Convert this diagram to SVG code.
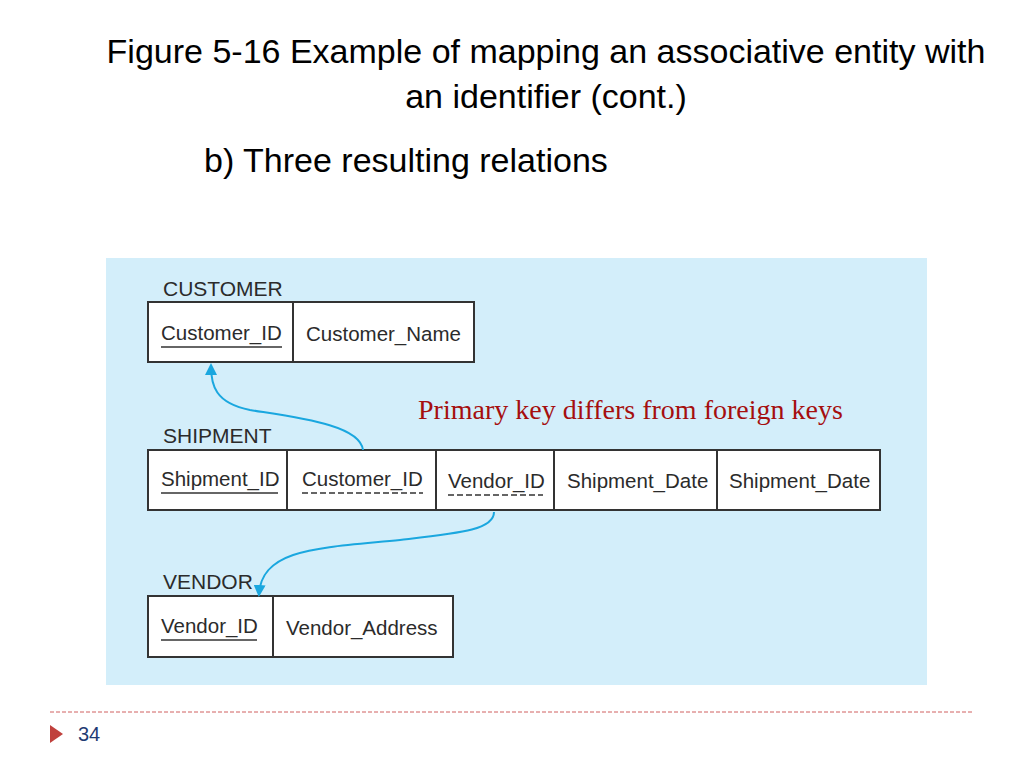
<svg xmlns="http://www.w3.org/2000/svg" width="1024" height="768" viewBox="0 0 1024 768">
<defs>
<style>
.title{font-family:"Liberation Sans",Arial,sans-serif;font-size:34px;fill:#000}
.lbl{font-family:"Liberation Sans",Arial,sans-serif;font-size:20.5px;fill:#2b2b2b}
.tname{font-family:"Liberation Sans",Arial,sans-serif;font-size:21px;fill:#2b2b2b}
.cell{fill:#fff;stroke:#333;stroke-width:2}
.div{stroke:#333;stroke-width:2}
.ul{stroke:#333;stroke-width:1.6}
.dul{stroke:#333;stroke-width:1.6;stroke-dasharray:6 3}
.conn{fill:none;stroke:#1aa7df;stroke-width:2}
</style>
<marker id="ah" markerWidth="12" markerHeight="12" refX="9" refY="6" orient="auto" markerUnits="userSpaceOnUse">
<path d="M0,0 L12,6 L0,12 z" fill="#1aa7df"/>
</marker>
</defs>
<rect width="1024" height="768" fill="#fff"/>
<text class="title" x="546" y="63" text-anchor="middle">Figure 5-16 Example of mapping an associative entity with</text>
<text class="title" x="546" y="108" text-anchor="middle">an identifier (cont.)</text>
<text class="title" x="204" y="172">b) Three resulting relations</text>
<rect x="106" y="258" width="821" height="427" fill="#d3eefa"/>

<g id="customer">
<text class="tname" x="163" y="296">CUSTOMER</text>
<rect class="cell" x="148" y="302" width="326" height="60"/>
<line class="div" x1="293" y1="302" x2="293" y2="362"/>
<text class="lbl" x="161" y="340">Customer_ID</text>
<line class="ul" x1="161" y1="347" x2="282" y2="347"/>
<text class="lbl" x="306" y="341">Customer_Name</text>
</g>

<g id="shipment">
<text class="tname" x="163" y="443">SHIPMENT</text>
<rect class="cell" x="148" y="450" width="732" height="60"/>
<line class="div" x1="287" y1="450" x2="287" y2="510"/>
<line class="div" x1="436" y1="450" x2="436" y2="510"/>
<line class="div" x1="554" y1="450" x2="554" y2="510"/>
<line class="div" x1="717" y1="450" x2="717" y2="510"/>
<text class="lbl" x="161" y="486">Shipment_ID</text>
<line class="ul" x1="161" y1="493" x2="278" y2="493"/>
<text class="lbl" x="302" y="486">Customer_ID</text>
<line class="dul" x1="302" y1="493" x2="423" y2="493"/>
<text class="lbl" x="448" y="488">Vendor_ID</text>
<line class="dul" x1="448" y1="495" x2="543" y2="495"/>
<text class="lbl" x="567" y="488">Shipment_Date</text>
<text class="lbl" x="729" y="488">Shipment_Date</text>
</g>

<g id="vendor">
<text class="tname" x="163" y="589">VENDOR</text>
<rect class="cell" x="148" y="596" width="305" height="61"/>
<line class="div" x1="273" y1="596" x2="273" y2="657"/>
<text class="lbl" x="161" y="633">Vendor_ID</text>
<line class="ul" x1="161" y1="640" x2="257" y2="640"/>
<text class="lbl" x="286" y="635">Vendor_Address</text>
</g>

<g id="connectors">
<path class="conn" d="M363,450 C360,425 300,418 250,410 C215,403 211,385 211,366" marker-end="url(#ah)"/>
<path class="conn" d="M494,512 C494,530 460,533 400,540 C320,548 262,548 259,594" marker-end="url(#ah)"/>
</g>

<text x="418" y="419" font-family="Liberation Serif, Times New Roman, serif" font-size="28" fill="#a50f0f">Primary key differs from foreign keys</text>

<line x1="50" y1="712" x2="972" y2="712" stroke="#d06060" stroke-width="1" stroke-dasharray="4 2"/>
<path d="M50,725 L63,734 L50,743 z" fill="#c0413d"/>
<text x="78" y="741" font-family="Liberation Sans, Arial, sans-serif" font-size="20" fill="#1f3b73">34</text>
</svg>
